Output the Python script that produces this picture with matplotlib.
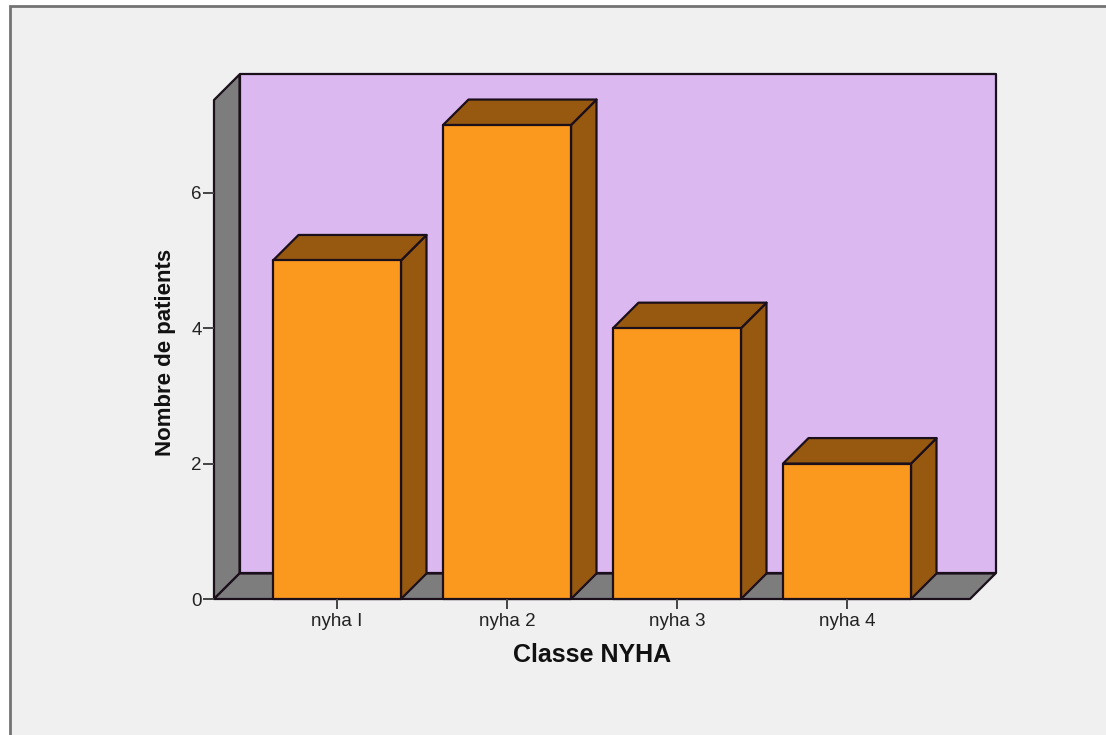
import matplotlib
matplotlib.use('Agg')
import matplotlib.pyplot as plt
from matplotlib.patches import Polygon, Rectangle

classes = ['nyha I', 'nyha 2', 'nyha 3', 'nyha 4']
patients = [5, 7, 4, 2]
y_ticks = [0, 2, 4, 6]

W, H = 1106, 735
plt.rcParams['font.family'] = ['Liberation Sans', 'DejaVu Sans']

fig = plt.figure(figsize=(W / 100, H / 100), dpi=100, facecolor='white')

# outer panel: the border runs off the top right and bottom of the image
panel = fig.add_axes([0, 0, 1, 1])
panel.set_xlim(0, W)
panel.set_ylim(H, 0)
panel.axis('off')
panel.add_patch(Rectangle((10, 6), W, H, fc='#f0f0f0', ec='#737373', lw=2))

# front plane of the box, in pixels
left, right, bottom, top = 214, 970, 599, 100
ax = fig.add_axes([left / W, 1 - bottom / H, (right - left) / W, (bottom - top) / H])
ax.patch.set_visible(False)
ax.set_xlim(-0.7235, 3.7235)
ax.set_ylim(0, 7.37)

# depth offset of the 3D effect in data units
dx = 25.5 / 170
dy = 25.5 / 67.7
x0, x1 = ax.get_xlim()
y0, y1 = ax.get_ylim()
edge = '#1a0f1a'
lw = 1.6


def face(points, color):
    ax.add_patch(Polygon(points, closed=True, fc=color, ec=edge, lw=lw,
                         joinstyle='round', clip_on=False))


# back wall, left wall and floor
face([(x0 + dx, y0 + dy), (x1 + dx, y0 + dy), (x1 + dx, y1 + dy), (x0 + dx, y1 + dy)], '#dcb8f1')
face([(x0, y0), (x0 + dx, y0 + dy), (x0 + dx, y1 + dy), (x0, y1)], '#7d7d7d')
face([(x0, y0), (x1, y0), (x1 + dx, y0 + dy), (x0 + dx, y0 + dy)], '#7d7d7d')

bar_w = 128 / 170
for i, v in enumerate(patients):
    l = i - bar_w / 2
    r = i + bar_w / 2
    face([(r, 0), (r + dx, dy), (r + dx, v + dy), (r, v)], '#97590f')
    face([(l, v), (r, v), (r + dx, v + dy), (l + dx, v + dy)], '#97590f')
    face([(l, 0), (r, 0), (r, v), (l, v)], '#fb991f')

for s in ax.spines.values():
    s.set_visible(False)
ax.set_xticks(range(len(classes)))
ax.set_xticklabels(classes, fontsize=13.5, color='#222222')
ax.set_yticks(y_ticks)
ax.set_yticklabels(y_ticks, fontsize=13.5, color='#222222')
ax.tick_params(axis='x', length=7, width=1.4, color='#444444', pad=3)
ax.tick_params(axis='y', length=8, width=1.4, color='#444444', pad=1)

fig.text(592 / W, 1 - 655 / H, 'Classe NYHA', fontsize=18, fontweight='bold',
         color='#111111', ha='center', va='center')
fig.text(165 / W, 1 - 352 / H, 'Nombre de patients', rotation=90, fontsize=16, fontweight='bold',
         color='#111111', ha='center', va='center')

fig.savefig('out.png', dpi=100)
